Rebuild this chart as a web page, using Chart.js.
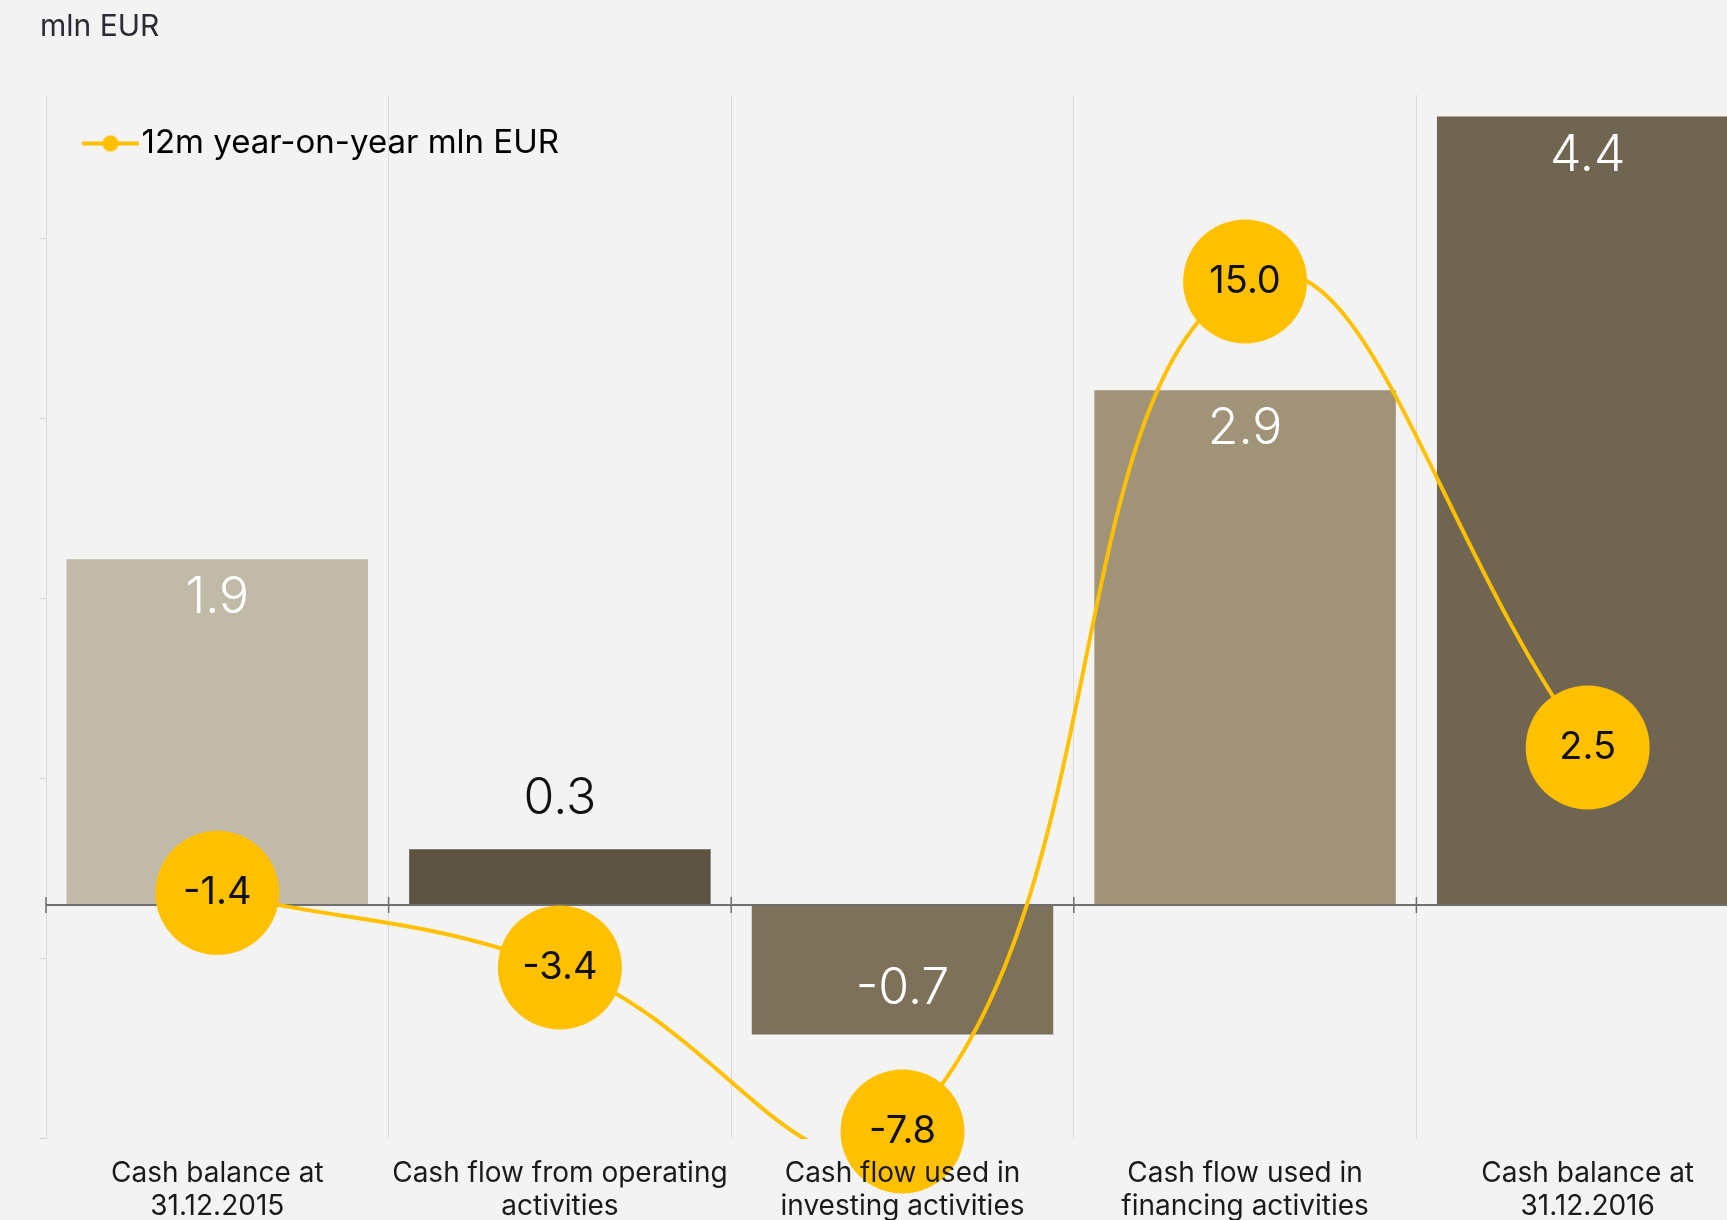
<!DOCTYPE html>
<html>
<head>
<meta charset="utf-8">
<script src="https://cdn.jsdelivr.net/npm/chart.js@4.4.1/dist/chart.umd.min.js"></script>
<style>
  html, body { margin: 0; padding: 0; background: #f3f3f3; overflow: hidden; }
  #wrap { position: relative; width: 1759px; height: 1242px; }
</style>
</head>
<body>
<div id="wrap"><canvas id="cashChart"></canvas></div>
<script>
const categories = [
  ['Cash balance at', '31.12.2015'],
  ['Cash flow from operating', 'activities'],
  ['Cash flow used in', 'investing activities'],
  ['Cash flow used in', 'financing activities'],
  ['Cash balance at', '31.12.2016']
];
const cashValues = [1.92, 0.31, -0.72, 2.86, 4.38];
const yoyValues = [-1.4, -3.4, -7.8, 15.0, 2.5];
const barColors = ['#c2baa9', '#5c5343', '#7d7159', '#a09378', '#706551'];
const cashTicks = [-1.3, -0.3, 0.7, 1.7, 2.7, 3.7];
const unitLabel = 'mln EUR';
const yoyLabel = '12m year-on-year mln EUR';

const GOLD = '#ffc000';
const FONT = 'Inter, "Noto Sans", sans-serif';

// legend symbol: short line with a dot, like the original
const legendIcon = document.createElement('canvas');
legendIcon.width = 74;
legendIcon.height = 20;
const ic = legendIcon.getContext('2d');
ic.strokeStyle = GOLD;
ic.lineWidth = 4;
ic.lineCap = 'round';
ic.beginPath();
ic.moveTo(19, 10);
ic.lineTo(73, 10);
ic.stroke();
ic.fillStyle = GOLD;
ic.beginPath();
ic.arc(46, 10, 8, 0, Math.PI * 2);
ic.fill();

const overlay = {
  id: 'overlay',
  afterLayout(chart) {
    // keep the legend inside the plot, top-left
    const lg = chart.legend;
    const ca = chart.chartArea;
    lg.top = ca.top;
    lg.bottom = ca.bottom;
    lg.left = ca.left;
    lg.right = ca.right;
  },
  afterDatasetDraw(chart, args) {
    if (args.index !== 0) return;
    const { ctx, chartArea, scales: { x, y } } = chart;
    const zero = y.getPixelForValue(0);
    ctx.save();
    ctx.strokeStyle = '#6e6e6e';
    ctx.lineWidth = 2;
    ctx.beginPath();
    ctx.moveTo(chartArea.left, zero);
    ctx.lineTo(chartArea.right, zero);
    ctx.stroke();
    ctx.lineWidth = 1.5;
    for (let i = 0; i <= categories.length; i++) {
      const bx = x.getPixelForValue(i - 0.5);
      ctx.beginPath();
      ctx.moveTo(bx, zero - 8);
      ctx.lineTo(bx, zero + 8);
      ctx.stroke();
    }
    ctx.font = '300 50px ' + FONT;
    ctx.textAlign = 'center';
    ctx.textBaseline = 'middle';
    args.meta.data.forEach((bar, i) => {
      const v = cashValues[i];
      const inside = Math.abs(bar.base - bar.y) > 80;
      let ty;
      if (inside) ty = v >= 0 ? bar.y + 39 : bar.y - 46;
      else ty = v >= 0 ? bar.y - 50 : bar.y + 50;
      ctx.fillStyle = inside ? '#ffffff' : '#111111';
      ctx.fillText(v.toFixed(1), bar.x, ty);
    });
    ctx.restore();
  },
  afterDatasetsDraw(chart) {
    const { ctx } = chart;
    const meta = chart.getDatasetMeta(2);
    ctx.save();
    ctx.font = '38px ' + FONT;
    ctx.textAlign = 'center';
    ctx.textBaseline = 'middle';
    ctx.fillStyle = '#111111';
    meta.data.forEach((pt, i) => {
      ctx.fillText(yoyValues[i].toFixed(1), pt.x, pt.y);
    });
    ctx.restore();
  }
};

new Chart(document.getElementById('cashChart'), {
  type: 'bar',
  data: {
    labels: categories,
    datasets: [
      {
        type: 'bar',
        label: 'Cash',
        data: cashValues,
        backgroundColor: barColors,
        barPercentage: 0.88,
        categoryPercentage: 1,
        yAxisID: 'y',
        order: 3
      },
      {
        type: 'line',
        label: yoyLabel,
        data: yoyValues,
        borderColor: GOLD,
        borderWidth: 4,
        tension: 0.45,
        capBezierPoints: false,
        pointRadius: 0,
        pointHoverRadius: 0,
        yAxisID: 'y2',
        order: 2
      },
      {
        type: 'line',
        label: 'points',
        data: yoyValues,
        showLine: false,
        pointRadius: 62,
        pointHoverRadius: 62,
        pointBackgroundColor: GOLD,
        pointBorderWidth: 0,
        clip: false,
        yAxisID: 'y2',
        order: 1
      }
    ]
  },
  options: {
    responsive: true,
    maintainAspectRatio: false,
    animation: false,
    layout: { autoPadding: false, padding: { left: 40, right: 0, top: 0, bottom: 1 } },
    scales: {
      x: {
        type: 'category',
        offset: true,
        grid: { offset: true, color: '#dadada', lineWidth: 1, drawTicks: false },
        border: { display: false },
        ticks: {
          z: 1,
          padding: 18,
          autoSkip: false,
          maxRotation: 0,
          color: '#1a1a1a',
          font: { family: FONT, size: 28, lineHeight: 1.18 }
        }
      },
      y: {
        min: -1.3,
        max: 4.5,
        afterBuildTicks: axis => { axis.ticks = cashTicks.map(value => ({ value })); },
        grid: { drawOnChartArea: false, tickLength: 6, color: '#d4d4d4' },
        border: { color: '#dadada' },
        ticks: { display: false }
      },
      y2: { display: false, min: -8, max: 20 }
    },
    plugins: {
      tooltip: { enabled: false },
      title: {
        display: true,
        text: unitLabel,
        align: 'start',
        color: '#2d2a33',
        font: { family: FONT, size: 30, weight: 'normal' },
        padding: { top: 9, bottom: 50 }
      },
      legend: {
        position: 'chartArea',
        align: 'start',
        labels: {
          usePointStyle: true,
          pointStyleWidth: 47,
          padding: 32,
          color: '#111111',
          font: { family: FONT, size: 33 },
          generateLabels: () => [{
            text: yoyLabel,
            pointStyle: legendIcon,
            fillStyle: GOLD,
            strokeStyle: GOLD,
            lineWidth: 0,
            hidden: false,
            datasetIndex: 1
          }]
        }
      }
    }
  },
  plugins: [overlay]
});
</script>
</body>
</html>
